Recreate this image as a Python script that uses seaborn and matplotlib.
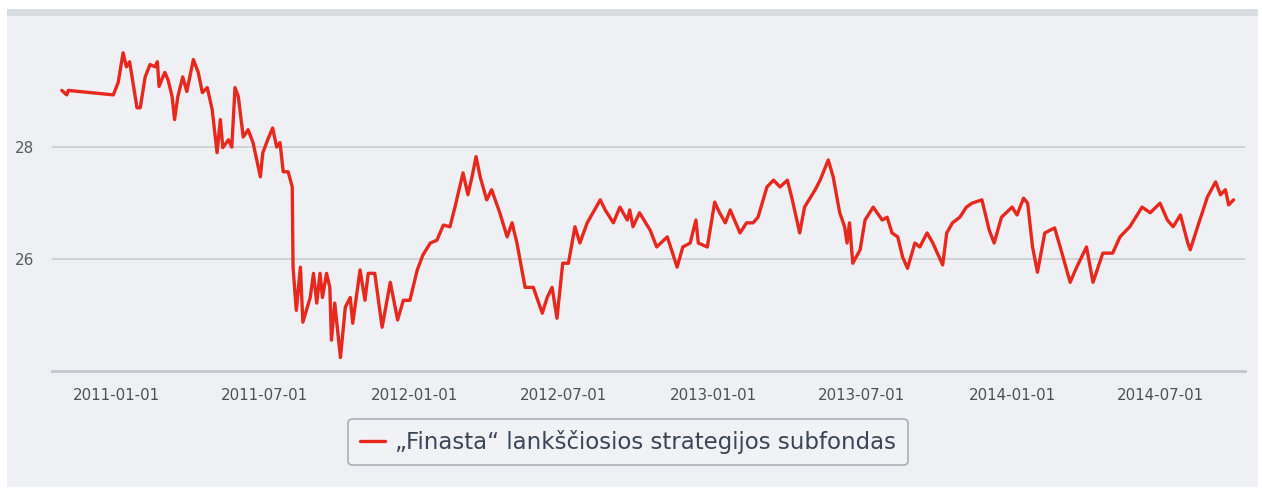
import pandas as pd
import matplotlib.pyplot as plt
import matplotlib.dates as mdates
from matplotlib.patches import Rectangle
import seaborn as sns

# Duomenys (nuskaityta nuo grafiko)
dates = [
    "2010-10-26", "2010-11-01", "2010-11-03", "2010-12-28", "2011-01-03", "2011-01-09",
    "2011-01-13", "2011-01-17", "2011-01-20", "2011-01-26", "2011-01-30", "2011-02-05",
    "2011-02-11", "2011-02-17", "2011-02-20", "2011-02-22", "2011-03-01", "2011-03-05",
    "2011-03-10", "2011-03-13", "2011-03-17", "2011-03-23", "2011-03-28", "2011-04-05",
    "2011-04-11", "2011-04-16", "2011-04-22", "2011-04-28", "2011-05-04", "2011-05-08",
    "2011-05-11", "2011-05-18", "2011-05-22", "2011-05-26", "2011-05-30", "2011-06-05",
    "2011-06-11", "2011-06-17", "2011-06-26", "2011-06-29", "2011-07-05", "2011-07-11",
    "2011-07-16", "2011-07-20", "2011-07-24", "2011-07-30", "2011-08-04", "2011-08-05",
    "2011-08-09", "2011-08-14", "2011-08-17", "2011-08-26", "2011-08-30", "2011-09-03",
    "2011-09-07", "2011-09-10", "2011-09-15", "2011-09-19", "2011-09-21", "2011-09-25",
    "2011-10-02", "2011-10-08", "2011-10-14", "2011-10-17", "2011-10-26", "2011-11-01",
    "2011-11-05", "2011-11-13", "2011-11-22", "2011-12-02", "2011-12-11", "2011-12-18",
    "2011-12-26", "2012-01-04", "2012-01-11", "2012-01-20", "2012-01-28", "2012-02-05",
    "2012-02-13", "2012-02-19", "2012-02-29", "2012-03-06", "2012-03-11", "2012-03-16",
    "2012-03-21", "2012-03-29", "2012-04-04", "2012-04-14", "2012-04-23", "2012-04-29",
    "2012-05-05", "2012-05-15", "2012-05-25", "2012-06-05", "2012-06-11", "2012-06-17",
    "2012-06-23", "2012-06-30", "2012-07-07", "2012-07-15", "2012-07-21", "2012-07-30",
    "2012-08-06", "2012-08-15", "2012-08-21", "2012-08-31", "2012-09-08", "2012-09-17",
    "2012-09-20", "2012-09-24", "2012-10-02", "2012-10-15", "2012-10-23", "2012-11-05",
    "2012-11-17", "2012-11-24", "2012-12-03", "2012-12-10", "2012-12-13", "2012-12-24",
    "2013-01-02", "2013-01-08", "2013-01-15", "2013-01-21", "2013-02-02", "2013-02-10",
    "2013-02-18", "2013-02-24", "2013-03-07", "2013-03-15", "2013-03-23", "2013-04-01",
    "2013-04-07", "2013-04-16", "2013-04-22", "2013-05-05", "2013-05-11", "2013-05-21",
    "2013-05-27", "2013-06-04", "2013-06-10", "2013-06-13", "2013-06-16", "2013-06-20",
    "2013-06-29", "2013-07-05", "2013-07-15", "2013-07-26", "2013-08-01", "2013-08-07",
    "2013-08-14", "2013-08-20", "2013-08-26", "2013-09-04", "2013-09-10", "2013-09-19",
    "2013-09-26", "2013-10-08", "2013-10-13", "2013-10-20", "2013-10-29", "2013-11-06",
    "2013-11-13", "2013-11-25", "2013-12-04", "2013-12-10", "2013-12-19", "2014-01-01",
    "2014-01-07", "2014-01-15", "2014-01-20", "2014-01-26", "2014-02-01", "2014-02-10",
    "2014-02-22", "2014-03-03", "2014-03-13", "2014-03-21", "2014-04-02", "2014-04-10",
    "2014-04-22", "2014-05-04", "2014-05-13", "2014-05-25", "2014-06-09", "2014-06-19",
    "2014-07-01", "2014-07-10", "2014-07-17", "2014-07-26", "2014-08-04", "2014-08-07",
    "2014-08-16", "2014-08-28", "2014-09-07", "2014-09-13", "2014-09-19", "2014-09-23",
    "2014-09-29",
]
values = [
    29.00, 28.92, 29.00, 28.92, 29.14, 29.67,
    29.42, 29.51, 29.24, 28.69, 28.69, 29.24,
    29.46, 29.42, 29.51, 29.07, 29.32, 29.19,
    28.89, 28.48, 28.89, 29.24, 28.98, 29.55,
    29.32, 28.96, 29.05, 28.66, 27.89, 28.48,
    27.98, 28.12, 27.99, 29.05, 28.89, 28.17,
    28.30, 28.07, 27.46, 27.89, 28.12, 28.33,
    27.99, 28.07, 27.55, 27.55, 27.28, 25.85,
    25.08, 25.85, 24.87, 25.31, 25.74, 25.21,
    25.74, 25.31, 25.74, 25.49, 24.55, 25.21,
    24.24, 25.14, 25.31, 24.85, 25.80, 25.26,
    25.74, 25.74, 24.78, 25.58, 24.91, 25.26,
    25.26, 25.80, 26.07, 26.28, 26.33, 26.60,
    26.57, 26.91, 27.53, 27.14, 27.46, 27.82,
    27.46, 27.05, 27.23, 26.82, 26.39, 26.64,
    26.28, 25.49, 25.49, 25.03, 25.31, 25.49,
    24.94, 25.92, 25.92, 26.57, 26.28, 26.64,
    26.82, 27.05, 26.87, 26.64, 26.92, 26.69,
    26.87, 26.57, 26.82, 26.51, 26.21, 26.39,
    25.85, 26.21, 26.28, 26.69, 26.28, 26.21,
    27.01, 26.82, 26.64, 26.87, 26.46, 26.64,
    26.64, 26.74, 27.28, 27.40, 27.28, 27.40,
    27.05, 26.46, 26.92, 27.23, 27.40, 27.76,
    27.46, 26.82, 26.57, 26.28, 26.64, 25.92,
    26.16, 26.69, 26.92, 26.69, 26.74, 26.46,
    26.39, 26.03, 25.83, 26.28, 26.21, 26.46,
    26.28, 25.89, 26.46, 26.64, 26.74, 26.92,
    26.99, 27.05, 26.51, 26.28, 26.74, 26.92,
    26.78, 27.08, 26.99, 26.21, 25.76, 26.46,
    26.55, 26.10, 25.58, 25.85, 26.21, 25.58,
    26.10, 26.10, 26.39, 26.57, 26.92, 26.82,
    26.99, 26.69, 26.57, 26.78, 26.28, 26.16,
    26.57, 27.10, 27.37, 27.14, 27.23, 26.96,
    27.05,
]
series_name = "\u201eFinasta\u201c lankščiosios strategijos subfondas"
tick_dates = ["2011-01-01", "2011-07-01", "2012-01-01", "2012-07-01",
              "2013-01-01", "2013-07-01", "2014-01-01", "2014-07-01"]
y_ticks = [26, 28]

df = pd.DataFrame({"data": pd.to_datetime(dates), "kaina": values, "fondas": series_name})

sns.set_theme(style="white")
plt.rcParams['font.family'] = ['DejaVu Sans']

fig = plt.figure(figsize=(12.62, 4.91), dpi=100)
fig.patch.set_facecolor("white")
# fono plokštė ir viršutinė juosta
fig.add_artist(Rectangle((7 / 1262, 4 / 491), 1251 / 1262, 472 / 491,
                         transform=fig.transFigure, facecolor="#eef0f4",
                         edgecolor="none", zorder=-10))
fig.add_artist(Rectangle((7 / 1262, 475 / 491), 1251 / 1262, 7 / 491,
                         transform=fig.transFigure, facecolor="#d9dce1",
                         edgecolor="none", zorder=-10))

ax = fig.add_axes([52 / 1262, 120 / 491, 1193 / 1262, 353 / 491])
ax.set_facecolor("none")
ax.set_zorder(1)

sns.lineplot(data=df, x="data", y="kaina", hue="fondas", palette=["#e8271d"],
             linewidth=2.4, ax=ax, legend=True)

ax.set_xlim(pd.Timestamp("2010-10-14"), pd.Timestamp("2014-10-13"))
ax.set_ylim(24, 30.29)
ax.set_xticks(pd.to_datetime(tick_dates))
ax.xaxis.set_major_formatter(mdates.DateFormatter("%Y-%m-%d"))
ax.set_yticks(y_ticks)
ax.set_xlabel("")
ax.set_ylabel("")

ax.grid(axis="y", color="#c9cbcf", linewidth=1.2)
ax.grid(axis="x", visible=False)
for s in ["top", "right", "left"]:
    ax.spines[s].set_visible(False)
ax.spines["bottom"].set_color("#c3c6cb")
ax.spines["bottom"].set_linewidth(2)
ax.tick_params(axis="x", colors="#c3c6cb", length=5, width=1, labelcolor="#4f4f4f",
               labelsize=10.8, pad=7)
ax.tick_params(axis="y", length=0, labelcolor="#5a5a5a", labelsize=11, pad=13)

handles, labels = ax.get_legend_handles_labels()
leg = fig.legend(handles, labels, loc="center", bbox_to_anchor=(628 / 1262, 49 / 491),
                 frameon=True, fontsize=16.5, handlelength=1.1, handletextpad=0.45,
                 borderpad=0.5, borderaxespad=0, fancybox=True, labelcolor="#3a4657")
leg.get_frame().set_edgecolor("#9a9ea4")
leg.get_frame().set_facecolor("#f2f3f6")
leg.get_frame().set_linewidth(1.2)
ax.get_legend().remove()

fig.savefig("out.png", dpi=100)
